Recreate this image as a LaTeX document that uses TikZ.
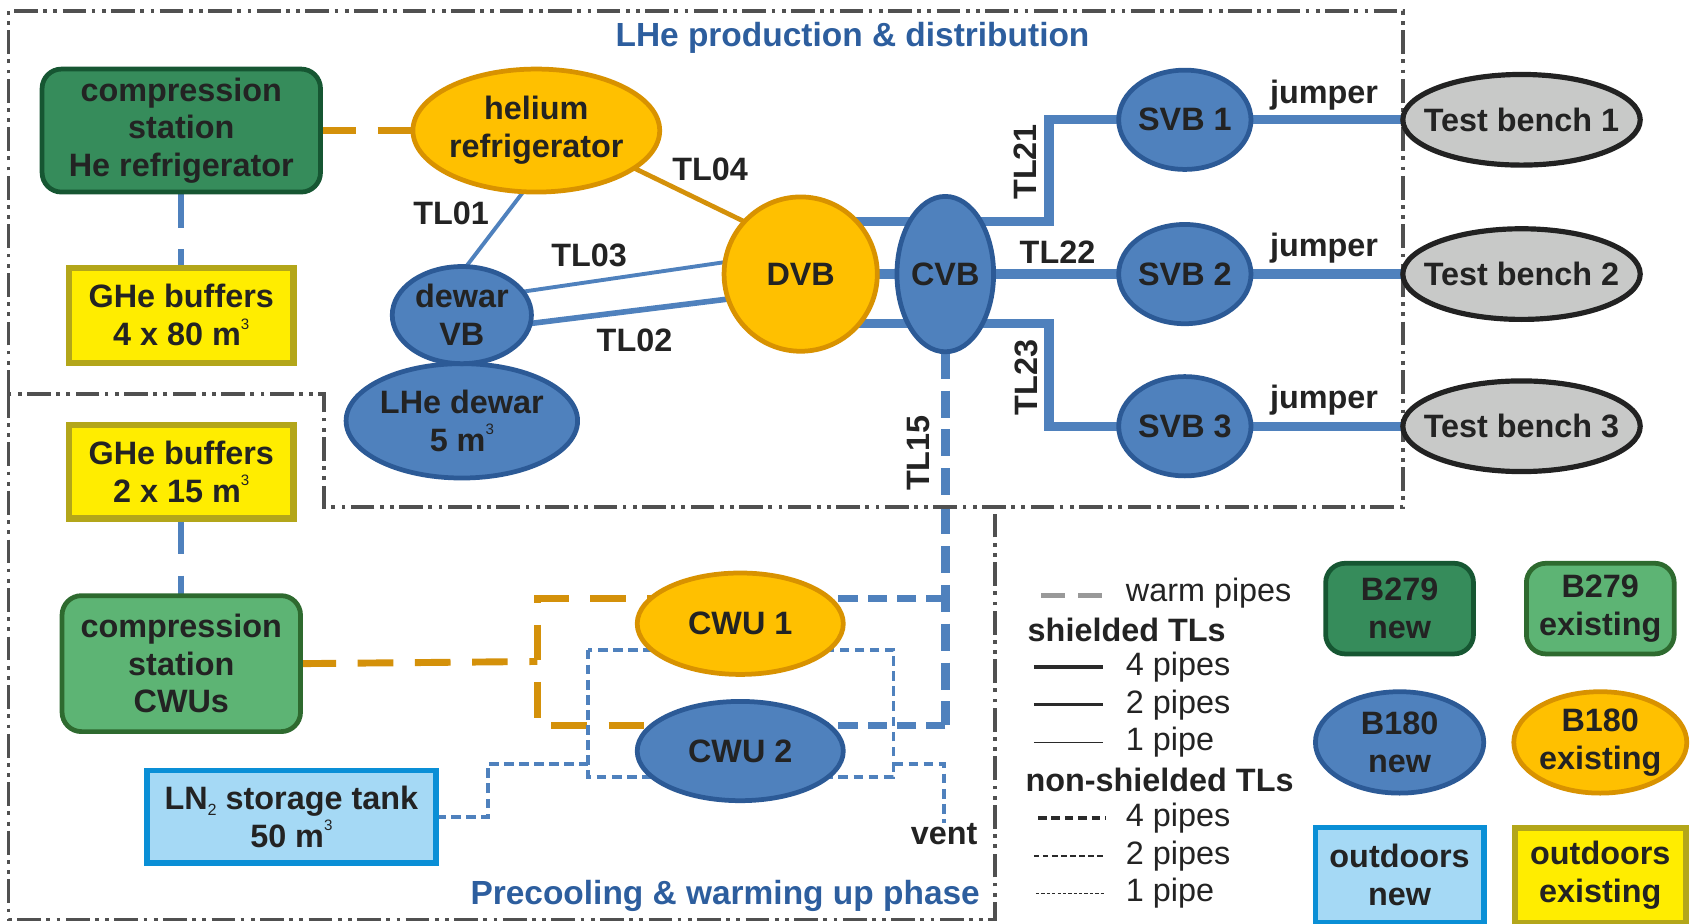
\documentclass[tikz,border=0pt]{standalone}
\usepackage{fontspec}
\setmainfont{Liberation Sans}
\usetikzlibrary{shapes.geometric,backgrounds}
\newcommand{\cubesup}{\raisebox{7.6pt}{\mdseries\fontsize{7}{7}\selectfont 3}}
\newcommand{\twosub}{\raisebox{-2.8pt}{\mdseries\fontsize{7.5}{7.5}\selectfont 2}}
\definecolor{txt}{HTML}{232323}
\definecolor{dkgfill}{HTML}{368C5B}
\definecolor{dkgline}{HTML}{165632}
\definecolor{mgfill}{HTML}{5DB474}
\definecolor{mgline}{HTML}{2E6A2F}
\definecolor{bfill}{HTML}{4F81BD}
\definecolor{bline}{HTML}{2C5A96}
\definecolor{ofill}{HTML}{FFC000}
\definecolor{oline}{HTML}{D89200}
\definecolor{yfill}{HTML}{FFED00}
\definecolor{yline}{HTML}{B3A61A}
\definecolor{lbfill}{HTML}{A5D9F5}
\definecolor{lbline}{HTML}{0A8FD6}
\definecolor{gfill}{HTML}{C8C9C8}
\definecolor{gline}{HTML}{222222}
\definecolor{pipe}{HTML}{4F81BD}
\definecolor{warmc}{HTML}{D4910A}
\definecolor{framec}{HTML}{505050}
\definecolor{ttl}{HTML}{2D5E9E}
\definecolor{legc}{HTML}{2A2A2A}
\tikzset{
  base/.style={inner sep=0pt, outer sep=0pt, align=center, text=txt,
    font=\bfseries\fontsize{15}{17.5}\selectfont, line width=2.2pt},
  bnew/.style={base, rectangle, rounded corners=9pt, fill=dkgfill, draw=dkgline},
  bexist/.style={base, rectangle, rounded corners=9pt, fill=mgfill, draw=mgline},
  anew/.style={base, ellipse, fill=bfill, draw=bline},
  aexist/.style={base, ellipse, fill=ofill, draw=oline},
  onew/.style={base, rectangle, fill=lbfill, draw=lbline, line width=2.6pt},
  oexist/.style={base, rectangle, fill=yfill, draw=yline, line width=2.8pt},
  bench/.style={base, ellipse, fill=gfill, draw=gline, line width=2.4pt, inner xsep=-9pt},
  lbl/.style={inner sep=0pt, text=txt, font=\bfseries\fontsize{15}{17.5}\selectfont},
  legtxt/.style={inner sep=0pt, anchor=west, text=txt, font=\fontsize{15}{17.5}\selectfont},
  legbold/.style={inner sep=0pt, anchor=west, text=txt, font=\bfseries\fontsize{15}{17.5}\selectfont},
  ttlstyle/.style={inner sep=0pt, text=ttl, font=\bfseries\fontsize{15.5}{18}\selectfont},
  sfour/.style={draw=pipe, line width=4.3pt},
  stwo/.style={draw=pipe, line width=2.6pt},
  sone/.style={draw=pipe, line width=1.8pt},
  tlorange/.style={draw=warmc, line width=2.2pt},
  nfour/.style={draw=pipe, line width=4.4pt, dash pattern=on 12.5pt off 5.5pt},
  nthree/.style={draw=pipe, line width=3.2pt, dash pattern=on 9pt off 4.5pt},
  ntwo/.style={draw=pipe, line width=1.8pt, dash pattern=on 4.5pt off 2.5pt},
  warmo/.style={draw=warmc, line width=3.2pt, dash pattern=on 16.5pt off 10pt},
  warmb/.style={draw=pipe, line width=2.8pt, dash pattern=on 16.5pt off 10pt},
  frm/.style={draw=framec, line width=1.7pt,
    dash pattern=on 11pt off 2.5pt on 1.75pt off 3pt on 1.75pt off 2.5pt},
}
\begin{document}
\begin{tikzpicture}[x=0.5pt, y=-0.5pt]
\useasboundingbox (0,0) rectangle (1568,856);

% ---------- region frames ----------
\draw[frm] (8,365) -- (8,10) -- (1300,10) -- (1300,470) -- (300,470) -- (300,365) -- (8,365);
\draw[frm] (8,365) -- (8,852) -- (922,852) -- (922,470);

\node[ttlstyle] (t1) at (790,35) {LHe production \& distribution};
\node[ttlstyle] (t2) at (672,830) {Precooling \& warming up phase};

% ---------- nodes ----------
\node[bnew, minimum width=129pt, minimum height=57pt] (cs1) at (168,121) {compression\\station\\He refrigerator};
\node[oexist, minimum width=104pt, minimum height=44pt] (ghe1) at (168,292) {GHe buffers\\4 x 80 m\cubesup};
\node[aexist, minimum width=109.5pt, minimum height=57pt] (hr) at (497,121) {helium\\refrigerator};
\node[anew, minimum width=100pt, minimum height=53pt] (lhed) at (428,390) {LHe dewar\\5 m\cubesup};
\node[anew, minimum width=64.5pt, minimum height=45pt] (dwvb) at (428,292) {dewar\\VB};
\node[aexist, minimum width=71pt, minimum height=71.5pt] (dvb) at (742,254) {DVB};
\node[anew, minimum width=41pt, minimum height=72pt] (cvb) at (876,254) {CVB};
\node[anew, minimum width=58pt, minimum height=46pt] (svb1) at (1098,111) {SVB 1};
\node[anew, minimum width=58pt, minimum height=46pt] (svb2) at (1098,254) {SVB 2};
\node[anew, minimum width=58pt, minimum height=46pt] (svb3) at (1098,395) {SVB 3};
\node[bench, minimum width=110pt, minimum height=42pt] (tb1) at (1410,111) {Test bench 1};
\node[bench, minimum width=110pt, minimum height=42pt] (tb2) at (1410,254) {Test bench 2};
\node[bench, minimum width=110pt, minimum height=42pt] (tb3) at (1410,395) {Test bench 3};
\node[oexist, minimum width=104pt, minimum height=43.5pt] (ghe2) at (168,437) {GHe buffers\\2 x 15 m\cubesup};
\node[bexist, minimum width=110.5pt, minimum height=63pt] (cs2) at (168,615) {compression\\station\\CWUs};
\node[aexist, minimum width=95.5pt, minimum height=47pt] (cwu1) at (686,578) {CWU 1};
\node[anew, minimum width=95.5pt, minimum height=46pt] (cwu2) at (686,696) {CWU 2};
\node[onew, minimum width=134pt, minimum height=43pt] (ln2) at (270,757) {LN\twosub{} storage tank\\50 m\cubesup};
\node[lbl] (vent) at (875,773) {vent};

% ---------- connectors (behind nodes) ----------
\begin{pgfonlayer}{background}
\draw[warmo] (cs1.east) -- (hr.west);
\draw[warmb] (cs1.south) -- (ghe1.north);
\draw[warmb] (ghe2.south) -- (cs2.north);
\draw[sone] (hr.258) -- (dwvb.85);
\draw[tlorange] (hr.-21) -- (dvb.137);
\draw[sone] (dwvb.21) -- (dvb.171);
\draw[stwo] (dwvb.-7) -- (dvb.-161);
\draw[sfour] ([yshift=24.5pt]dvb.center) -- (972,205) |- (svb1.west);
\draw[sfour] (dvb.center) -- (svb2.center);
\draw[sfour] ([yshift=-23pt]dvb.center) -- (972,300) |- (svb3.west);
\draw[sfour] (svb1.east) -- (tb1.west);
\draw[sfour] (svb2.east) -- (tb2.west);
\draw[sfour] (svb3.east) -- (tb3.west);
\draw[nfour] (cvb.south) -- (876,672);
\draw[nthree] (876,555) -- ([yshift=11.5pt]cwu1.center);
\draw[nthree] (876,672) -- ([yshift=12pt]cwu2.center);
\draw[warmo] (cs2.east) -- (498,613);
\draw[warmo] ([yshift=11.5pt]cwu1.center) -| (498,672) -- ([yshift=12pt]cwu2.center);
\draw[ntwo] (ln2.east) -| (452,708) -- (545,708);
\draw[ntwo] (545,602) rectangle (828,720);
\draw[ntwo] (828,708) -| (vent.north);
\end{pgfonlayer}

% ---------- connector labels ----------
\node[lbl] (l01) at (418,198) {TL01};
\node[lbl] (l03) at (546,237) {TL03};
\node[lbl] (l04) at (658,157) {TL04};
\node[lbl] (l02) at (588,315) {TL02};
\node[lbl] (l22) at (980,234) {TL22};
\node[lbl, rotate=90] (l21) at (950,150) {TL21};
\node[lbl, rotate=90] (l23) at (951,350) {TL23};
\node[lbl, rotate=90] (l15) at (851,420) {TL15};
\node[lbl] (j1) at (1227,88) {jumper};
\node[lbl] (j2) at (1227,230) {jumper};
\node[lbl] (j3) at (1227,371) {jumper};

% ---------- legend ----------
\draw[draw=gray!80, line width=2.6pt, dash pattern=on 11pt off 6pt] (965,552) -- (1025,552);
\node[legtxt] (lw) at (1043,550) {warm pipes};
\node[legbold] (ls) at (952,584) {shielded TLs};
\draw[draw=legc, line width=2.2pt] (958,618) -- (1022,618);
\node[legtxt] (ls4) at (1043,618) {4 pipes};
\draw[draw=legc, line width=1.3pt] (958,653) -- (1022,653);
\node[legtxt] (ls2) at (1043,653) {2 pipes};
\draw[draw=legc, line width=0.8pt] (958,688) -- (1022,688);
\node[legtxt] (ls1) at (1043,688) {1 pipe};
\node[legbold] (ln) at (950,723) {non-shielded TLs};
\draw[draw=legc, line width=1.6pt, dash pattern=on 4pt off 2.2pt] (962,758) -- (1025,758);
\node[legtxt] (ln4) at (1043,758) {4 pipes};
\draw[draw=legc, line width=1.1pt, dash pattern=on 2.6pt off 1.6pt] (958,793) -- (1025,793);
\node[legtxt] (ln2t) at (1043,793) {2 pipes};
\draw[draw=legc, line width=0.7pt, dash pattern=on 1.5pt off 1pt] (960,828) -- (1025,828);
\node[legtxt] (ln1) at (1043,828) {1 pipe};

\node[bnew, minimum width=68.5pt, minimum height=42pt] (k1) at (1297,564) {B279\\new};
\node[bexist, minimum width=68.5pt, minimum height=42pt] (k2) at (1483,564) {B279\\existing};
\node[anew, minimum width=78pt, minimum height=47pt] (k3) at (1297,688) {B180\\new};
\node[aexist, minimum width=79pt, minimum height=47pt] (k4) at (1483,688) {B180\\existing};
\node[onew, minimum width=78pt, minimum height=44pt] (k5) at (1297,811) {outdoors\\new};
\node[oexist, minimum width=79pt, minimum height=44pt] (k6) at (1483,811) {outdoors\\existing};
\end{tikzpicture}
\end{document}
